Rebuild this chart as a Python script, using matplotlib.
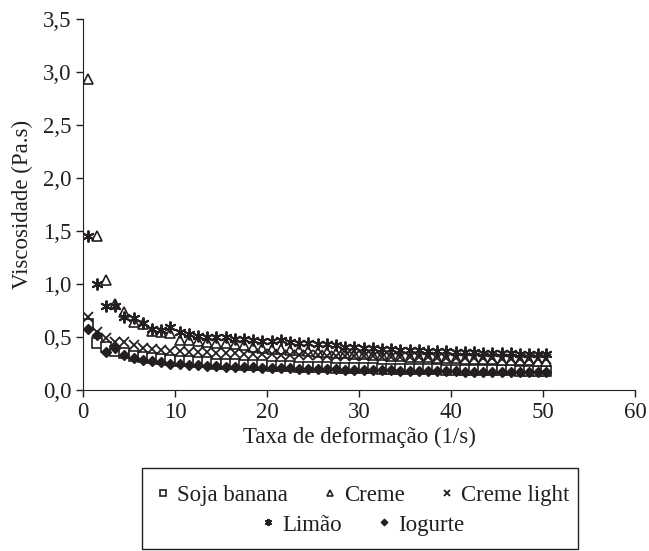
# Viscosidade x taxa de deformacao - bebidas de soja
import matplotlib
matplotlib.use('Agg')
from matplotlib import pyplot as plt
from matplotlib.patches import Rectangle
from matplotlib.ticker import FuncFormatter

plt.rcParams['font.family'] = ['Liberation Serif', 'DejaVu Serif']

taxa = [0.5, 1.5, 2.5, 3.5, 4.5, 5.5, 6.5, 7.5, 8.5, 9.5,
        10.5, 11.5, 12.5, 13.5, 14.5, 15.5, 16.5, 17.5, 18.5, 19.5,
        20.5, 21.5, 22.5, 23.5, 24.5, 25.5, 26.5, 27.5, 28.5, 29.5,
        30.5, 31.5, 32.5, 33.5, 34.5, 35.5, 36.5, 37.5, 38.5, 39.5,
        40.5, 41.5, 42.5, 43.5, 44.5, 45.5, 46.5, 47.5, 48.5, 49.5,
        50.3]

soja_banana = [0.62, 0.44, 0.41, 0.37, 0.35, 0.32, 0.31, 0.30, 0.29, 0.28,
               0.27, 0.27, 0.26, 0.26, 0.25, 0.25, 0.25, 0.24, 0.24, 0.24,
               0.23, 0.23, 0.23, 0.22, 0.22, 0.22, 0.22, 0.21, 0.21, 0.21,
               0.21, 0.21, 0.20, 0.20, 0.20, 0.20, 0.20, 0.20, 0.20, 0.19,
               0.19, 0.19, 0.19, 0.19, 0.19, 0.19, 0.19, 0.18, 0.18, 0.18,
               0.18]

creme = [2.93, 1.45, 1.04, 0.81, 0.74, 0.64, 0.62, 0.56, 0.55, 0.54,
         0.47, 0.47, 0.46, 0.45, 0.44, 0.44, 0.43, 0.42, 0.41, 0.40,
         0.39, 0.39, 0.38, 0.38, 0.37, 0.36, 0.36, 0.35, 0.35, 0.34,
         0.34, 0.33, 0.33, 0.32, 0.32, 0.31, 0.31, 0.31, 0.30, 0.30,
         0.30, 0.29, 0.29, 0.29, 0.29, 0.28, 0.28, 0.28, 0.28, 0.27,
         0.27]

creme_light = [0.69, 0.55, 0.49, 0.45, 0.45, 0.42, 0.40, 0.39, 0.38, 0.37,
               0.37, 0.36, 0.36, 0.36, 0.35, 0.35, 0.35, 0.34, 0.34, 0.34,
               0.34, 0.33, 0.33, 0.33, 0.33, 0.33, 0.32, 0.32, 0.32, 0.32,
               0.32, 0.32, 0.31, 0.31, 0.31, 0.31, 0.31, 0.31, 0.30, 0.30,
               0.30, 0.30, 0.30, 0.30, 0.30, 0.29, 0.29, 0.29, 0.29, 0.29,
               0.29]

limao = [1.45, 1.00, 0.79, 0.79, 0.69, 0.68, 0.63, 0.58, 0.57, 0.59,
         0.55, 0.53, 0.51, 0.50, 0.50, 0.50, 0.48, 0.48, 0.47, 0.46,
         0.46, 0.47, 0.45, 0.44, 0.44, 0.43, 0.43, 0.42, 0.41, 0.41,
         0.40, 0.40, 0.39, 0.39, 0.38, 0.38, 0.38, 0.37, 0.37, 0.37,
         0.36, 0.36, 0.36, 0.35, 0.35, 0.35, 0.35, 0.34, 0.34, 0.34,
         0.34]

iogurte = [0.58, 0.52, 0.36, 0.40, 0.33, 0.30, 0.28, 0.27, 0.26, 0.25,
           0.25, 0.24, 0.24, 0.23, 0.23, 0.22, 0.22, 0.22, 0.22, 0.21,
           0.21, 0.21, 0.21, 0.20, 0.20, 0.20, 0.20, 0.20, 0.19, 0.19,
           0.19, 0.19, 0.19, 0.19, 0.18, 0.18, 0.18, 0.18, 0.18, 0.18,
           0.18, 0.17, 0.17, 0.17, 0.17, 0.17, 0.17, 0.17, 0.17, 0.17,
           0.17]

cor = '#231f20'
fs = 16.5

fig = plt.figure(figsize=(6.49, 5.51), dpi=100)
ax = fig.add_axes([83/649, 1 - 390/551, 552/649, 371/551])

h1, = ax.plot(taxa, soja_banana, ls='none', marker='s', ms=6.5, mfc='white', mec=cor, mew=1.2, label='Soja banana')
h2, = ax.plot(taxa, creme, ls='none', marker='^', ms=7.5, mfc='white', mec=cor, mew=1.2, label='Creme')
h3, = ax.plot(taxa, creme_light, ls='none', marker='x', ms=7.5, mec=cor, mew=1.3, label='Creme light')
h4, = ax.plot(taxa, limao, ls='none', marker=(6, 2, 0), ms=8.5, mec=cor, mew=1.4, label='Limão')
h5, = ax.plot(taxa, iogurte, ls='none', marker='D', ms=5.5, mfc=cor, mec=cor, label='Iogurte')

ax.set_xlim(0, 60)
ax.set_ylim(0, 3.5)
ax.set_xticks(range(0, 61, 10))
ax.set_yticks([0, 0.5, 1.0, 1.5, 2.0, 2.5, 3.0, 3.5])
ax.yaxis.set_major_formatter(FuncFormatter(lambda v, p: ('%.1f' % v).replace('.', ',')))
ax.spines['top'].set_visible(False)
ax.spines['right'].set_visible(False)
ax.spines['left'].set_color(cor)
ax.spines['bottom'].set_color(cor)
ax.tick_params(direction='out', length=5, width=1, colors=cor, labelsize=fs, labelcolor=cor)
ax.set_xlabel('Taxa de deformação (1/s)', fontsize=fs, color=cor, labelpad=3)
ax.set_ylabel('Viscosidade (Pa.s)', fontsize=fs, color=cor, labelpad=7)

# caixa da legenda, com a segunda linha centrada como no Excel
fig.patches.append(Rectangle((142/649, 1 - 549/551), 436/649, 81/551, transform=fig.transFigure,
                             fill=False, edgecolor=cor, linewidth=1))
leg_kw = dict(loc='center', frameon=False, fontsize=fs, handletextpad=0.15, columnspacing=1.4,
              markerscale=0.6, handlelength=0.9, labelcolor=cor)
fig.legend(handles=[h1, h2, h3], ncol=3, bbox_to_anchor=(361/649, 1 - 495/551), **leg_kw)
fig.legend(handles=[h4, h5], ncol=2, bbox_to_anchor=(361/649, 1 - 525/551), **leg_kw)

fig.savefig('out.png', dpi=100)
